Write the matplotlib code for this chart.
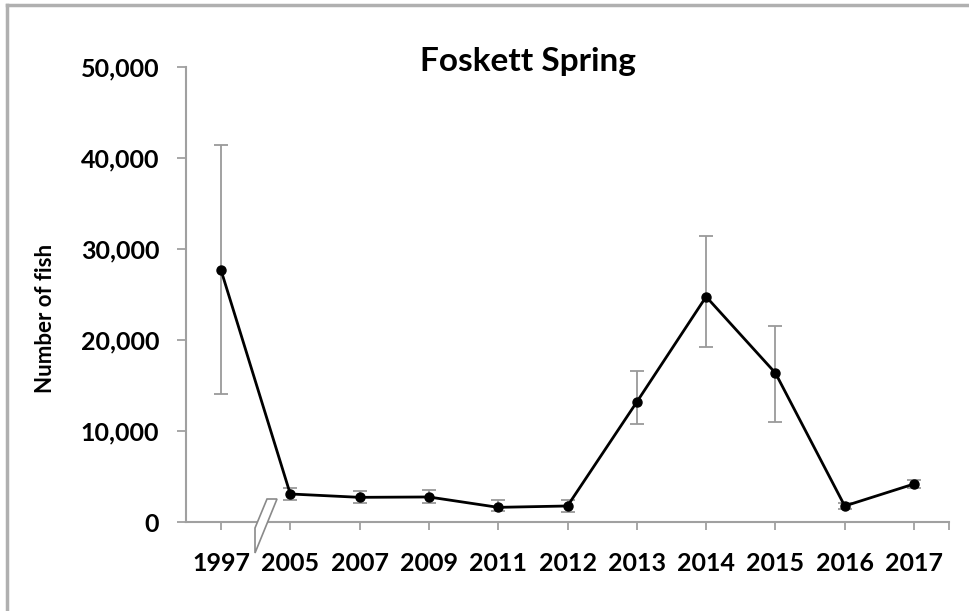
import matplotlib
matplotlib.use("Agg")
import matplotlib.pyplot as plt
from matplotlib.patches import Polygon
from matplotlib.lines import Line2D
import numpy as np

years = ["1997", "2005", "2007", "2009", "2011", "2012", "2013", "2014", "2015", "2016", "2017"]
fish = [27700, 3080, 2710, 2750, 1610, 1760, 13190, 24760, 16370, 1760, 4180]
err_upper = [41400, 3770, 3440, 3520, 2420, 2420, 16590, 31430, 21570, 2050, 4600]
err_lower = [14100, 2420, 2120, 2120, 1210, 1150, 10740, 19260, 10990, 1480, 3760]
y_ticks = [0, 10000, 20000, 30000, 40000, 50000]

W, H = 969, 611
fig = plt.figure(figsize=(W / 100, H / 100), dpi=100)
plt.rcParams['font.family'] = ['Lato', 'DejaVu Sans']

def fx(px):
    return px / W

def fy(py):
    return 1 - py / H

ax = fig.add_axes([fx(186.3), fy(522), fx(948.7) - fx(186.3), fy(67) - fy(522)])

x = np.arange(len(years))
fish_a = np.array(fish)
yerr = np.vstack([fish_a - np.array(err_lower), np.array(err_upper) - fish_a])

ax.errorbar(x, fish_a, yerr=yerr, fmt='none', ecolor='#9a9a9a', elinewidth=1.3,
            capsize=5, capthick=1.3, zorder=2)
ax.plot(x, fish_a, color='black', lw=2, marker='o', ms=6.5, zorder=3)

ax.set_xlim(-0.5, len(years) - 0.5)
ax.set_ylim(0, 50000)
ax.set_yticks(y_ticks)
ax.set_yticklabels([f"{v:,}" for v in y_ticks], fontsize=18, fontweight='bold')
ax.set_xticks(list(x) + [len(years) - 0.5])
ax.set_xticklabels(years + [""], fontsize=18, fontweight='bold')

for s in ['top', 'right']:
    ax.spines[s].set_visible(False)
for s in ['left', 'bottom']:
    ax.spines[s].set_color('#a0a0a0')
    ax.spines[s].set_linewidth(1.5)

ax.tick_params(axis='y', direction='out', length=6.5, width=1.3, color='#a0a0a0', pad=13)
ax.tick_params(axis='x', direction='out', length=5.5, width=1.3, color='#a0a0a0', pad=16)

# title and y label
fig.text(fx(528), fy(62), "Foskett Spring", ha='center', va='center',
         fontsize=24, fontweight='bold')
fig.text(fx(46), fy(318), "Number of fish", ha='center', va='center',
         rotation=90, fontsize=16, fontweight='bold')

# axis break marker
pts = [(267, 499), (277, 499), (255, 553), (255, 528)]
poly = Polygon([(fx(a), fy(b)) for a, b in pts], closed=True, transform=fig.transFigure,
               facecolor='white', edgecolor='#8a8a8a', lw=1.2, zorder=10)
fig.patches.append(poly)

# outer frame (top and left)
fig.lines.append(Line2D([fx(7), fx(7)], [fy(5), 0], transform=fig.transFigure,
                        color='#b0b0b0', lw=2.5))
fig.lines.append(Line2D([fx(7), 1], [fy(5), fy(5)], transform=fig.transFigure,
                        color='#b0b0b0', lw=2.5))

fig.savefig("out.png", dpi=100, facecolor='white')
